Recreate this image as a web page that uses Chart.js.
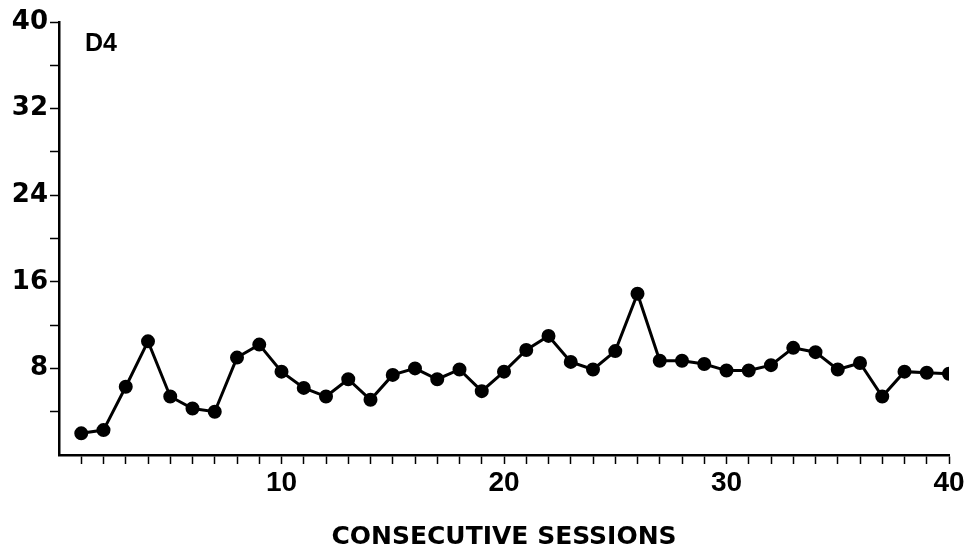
<!DOCTYPE html>
<html>
<head>
<meta charset="utf-8">
<script src="https://cdn.jsdelivr.net/npm/chart.js@4.4.1/dist/chart.umd.min.js"></script>
<style>
    html, body { margin: 0; padding: 0; background: #fff; }
    #wrap { width: 973px; height: 556px; }
</style>
</head>
<body>
<div id="wrap"><canvas id="sessions-chart"></canvas></div>
<script>
const sessions = [1, 2, 3, 4, 5, 6, 7, 8, 9, 10,
    11, 12, 13, 14, 15, 16, 17, 18, 19, 20,
    21, 22, 23, 24, 25, 26, 27, 28, 29, 30,
    31, 32, 33, 34, 35, 36, 37, 38, 39, 40];
const responses = [2.0, 2.3, 6.3, 10.5, 5.4, 4.3, 4.0, 9.0, 10.2, 7.7,
    6.2, 5.4, 7.0, 5.1, 7.4, 8.0, 7.0, 7.9, 5.9, 7.7,
    9.7, 11.0, 8.6, 7.9, 9.6, 14.9, 8.7, 8.7, 8.4, 7.8,
    7.8, 8.3, 9.9, 9.5, 7.9, 8.5, 5.4, 7.7, 7.6, 7.5];
const xLabelTicks = [10, 20, 30, 40];
const yLabelTicks = [8, 16, 24, 32, 40];
const panelLabel = 'D4';
const axisTitle = 'CONSECUTIVE SESSIONS';

const panelLabelPlugin = {
    id: 'panelLabel',
    afterDraw(chart) {
        const ctx = chart.ctx;
        const area = chart.chartArea;
        ctx.save();
        ctx.fillStyle = '#000';
        ctx.font = 'bold 25px "Liberation Sans"';
        ctx.textBaseline = 'middle';
        ctx.textAlign = 'left';
        ctx.fillText(panelLabel, area.left + 26, area.top + 22);
        ctx.restore();
    }
};

const chartEl = document.getElementById('sessions-chart');
new Chart(chartEl, {
    type: 'line',
    data: {
        datasets: [{
            data: sessions.map((s, i) => ({x: s, y: responses[i]})),
            borderColor: '#000',
            backgroundColor: '#000',
            borderWidth: 3,
            pointRadius: 5.5,
            pointHoverRadius: 5.5,
            tension: 0
        }]
    },
    options: {
        animation: false,
        responsive: true,
        maintainAspectRatio: false,
        layout: {
            padding: {top: 22, right: 24, bottom: 0, left: 0}
        },
        plugins: {
            legend: {display: false},
            tooltip: {enabled: false}
        },
        scales: {
            x: {
                type: 'linear',
                min: 0,
                max: 40,
                afterFit: (scale) => { scale.height = 101; },
                afterBuildTicks: (scale) => {
                    scale.ticks = sessions.map((v) => ({value: v}));
                },
                ticks: {
                    autoSkip: false,
                    maxRotation: 0,
                    padding: 2,
                    color: '#000',
                    font: {family: '"Liberation Sans"', weight: 'bold', size: 28},
                    callback: (v) => xLabelTicks.includes(v) ? String(v) : ''
                },
                grid: {
                    drawOnChartArea: false,
                    drawTicks: true,
                    tickLength: 9,
                    tickWidth: 1.5,
                    tickColor: '#000'
                },
                border: {display: true, color: '#000', width: 2.5},
                title: {
                    display: true,
                    text: axisTitle,
                    color: '#000',
                    font: {family: '"DejaVu Sans"', weight: 'bold', size: 25},
                    padding: {top: 14, bottom: 4}
                }
            },
            y: {
                min: 0,
                max: 40,
                afterFit: (scale) => { scale.width = 59; },
                afterBuildTicks: (scale) => {
                    scale.ticks = [4, 8, 12, 16, 20, 24, 28, 32, 36, 40].map((v) => ({value: v}));
                },
                ticks: {
                    padding: 2,
                    color: '#000',
                    font: {family: '"DejaVu Sans"', weight: 'bold', size: 26},
                    callback: (v) => yLabelTicks.includes(v) ? String(v) : ''
                },
                grid: {
                    drawOnChartArea: false,
                    drawTicks: true,
                    tickLength: 9,
                    tickWidth: 1.5,
                    tickColor: '#000'
                },
                border: {display: true, color: '#000', width: 2.5}
            }
        }
    },
    plugins: [panelLabelPlugin]
});
</script>
</body>
</html>
